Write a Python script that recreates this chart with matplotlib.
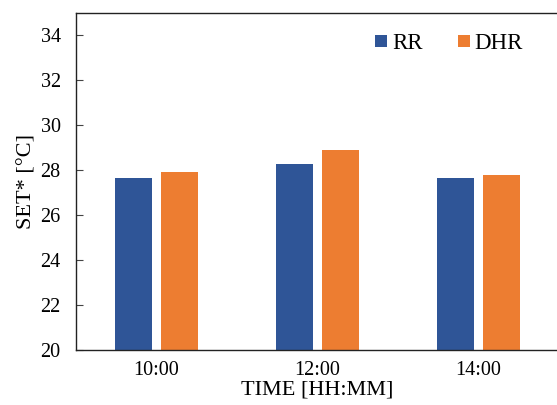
import numpy as np
import matplotlib
matplotlib.use("Agg")
import matplotlib.pyplot as plt

# values
times = ["10:00", "12:00", "14:00"]
rr = [27.67, 28.3, 27.67]
dhr = [27.9, 28.9, 27.8]
yticks = [20, 22, 24, 26, 28, 30, 32, 34]

BLUE = "#2F5597"
ORANGE = "#ED7D31"

plt.rcParams["font.family"] = ["Liberation Serif", "DejaVu Serif"]

fig = plt.figure(figsize=(5.57, 4.05), dpi=100)
ax = fig.add_axes([0.1364, 0.1358, 0.8672, 0.8322])

x = np.arange(len(times))
w = 0.23
off = 0.145
ax.bar(x - off, rr, w, color=BLUE, label="RR")
ax.bar(x + off, dhr, w, color=ORANGE, label="DHR")

ax.set_xlim(-0.5, 2.5)
ax.set_ylim(20, 35)
ax.set_yticks(yticks)
ax.set_xticks(x)
ax.set_xticklabels(times)

ax.tick_params(axis="y", direction="in", length=5, width=0.8, color="#444444",
               labelsize=14.5, pad=11)
ax.tick_params(axis="x", length=0, labelsize=14.5, pad=8)
for s in ["left", "top", "bottom"]:
    ax.spines[s].set_linewidth(1.0)
    ax.spines[s].set_color("#222222")

ax.set_xlabel("TIME [HH:MM]", fontsize=16, labelpad=0)
ax.set_ylabel("SET* [°C]", fontsize=16, labelpad=3)

ax.legend(loc="upper right", bbox_to_anchor=(0.925, 0.94), frameon=False, ncol=2,
          fontsize=16.5, handlelength=0.52, handleheight=0.45, handletextpad=0.2,
          columnspacing=1.55, borderpad=0, borderaxespad=0)

fig.savefig("out.png", dpi=100)
